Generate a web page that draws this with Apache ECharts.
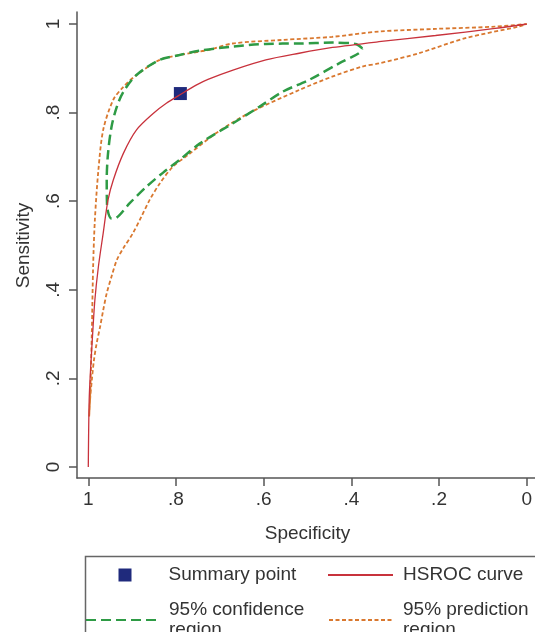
<!DOCTYPE html>
<html>
<head>
<meta charset="utf-8">
<script src="https://cdn.jsdelivr.net/npm/echarts@6/dist/echarts.min.js"></script>
<style>
html, body { margin: 0; padding: 0; background: #fff; }
#hsroc { width: 535px; height: 632px; }
</style>
</head>
<body>
<div id="hsroc"></div>
<script>
// values (specificity, sensitivity)
const summaryPoint = [0.79, 0.843];

const hsrocSpec = [1, 0.998, 0.9945, 0.99, 0.985, 0.977, 0.966, 0.955, 0.943, 0.92, 0.89, 0.852, 0.822, 0.788, 0.754, 0.727, 0.67, 0.595, 0.519, 0.443, 0.337, 0.208, 0.072, 0];
const hsrocSens = [0, 0.151, 0.226, 0.302, 0.377, 0.452, 0.528, 0.603, 0.648, 0.708, 0.761, 0.798, 0.821, 0.842, 0.862, 0.875, 0.896, 0.919, 0.934, 0.947, 0.96, 0.974, 0.99, 1];

const confSpec = [0.375, 0.39, 0.443, 0.519, 0.595, 0.67, 0.746, 0.792, 0.837, 0.89, 0.92, 0.935, 0.947, 0.955, 0.958, 0.957, 0.947, 0.935, 0.905, 0.867, 0.83, 0.792, 0.746, 0.67, 0.61, 0.557, 0.496, 0.428, 0.383, 0.375];
const confSens = [0.945, 0.955, 0.958, 0.956, 0.955, 0.949, 0.94, 0.93, 0.919, 0.885, 0.847, 0.813, 0.768, 0.708, 0.648, 0.588, 0.561, 0.563, 0.596, 0.633, 0.664, 0.693, 0.73, 0.776, 0.813, 0.847, 0.874, 0.911, 0.934, 0.945];

const predSpec = [0.998, 0.996, 0.992, 0.989, 0.985, 0.977, 0.966, 0.943, 0.92, 0.89, 0.837, 0.792, 0.728, 0.671, 0.558, 0.444, 0.337, 0.208, 0.072, 0, 0.019, 0.14, 0.246, 0.337, 0.375, 0.444, 0.519, 0.633, 0.708, 0.773, 0.807, 0.837, 0.86, 0.879, 0.898, 0.92, 0.935, 0.947, 0.958, 0.966, 0.973, 0.981, 0.987, 0.992, 0.996, 0.998];
const predSens = [0.114, 0.151, 0.302, 0.452, 0.558, 0.67, 0.761, 0.829, 0.858, 0.885, 0.919, 0.93, 0.941, 0.956, 0.964, 0.971, 0.983, 0.989, 0.994, 1, 0.994, 0.968, 0.934, 0.911, 0.904, 0.881, 0.851, 0.799, 0.754, 0.704, 0.678, 0.64, 0.603, 0.565, 0.528, 0.494, 0.467, 0.43, 0.392, 0.354, 0.317, 0.279, 0.242, 0.196, 0.151, 0.114];

const tickLabels = ['0', '.2', '.4', '.6', '.8', '1'];

const pairs = (xs, ys) => xs.map((x, i) => [x, ys[i]]);

const font = "'Liberation Sans', Arial, Helvetica, sans-serif";
const textColor = '#333';
const axisColor = '#555';

const chart = echarts.init(document.getElementById('hsroc'));

const tickFmt = (v) => tickLabels[Math.round(v * 5)];

const bareAxis = {
  type: 'value', min: 0, max: 1, gridIndex: 1,
  axisLine: { show: true, onZero: false, lineStyle: { color: axisColor, width: 1.5 } },
  axisTick: { show: false }, axisLabel: { show: false }, splitLine: { show: false }
};

const legendBase = {
  orient: 'vertical', padding: 0, selectedMode: false,
  itemStyle: { opacity: 0 },
  textStyle: { fontFamily: font, fontSize: 19, color: textColor, lineHeight: 21 }
};

chart.setOption({
  animation: false,
  backgroundColor: '#fff',
  grid: [
    { left: 88.3, right: 6.7, top: 24, bottom: 165 },
    { left: 77, right: 0, top: 12, bottom: 154 }
  ],
  xAxis: [
    {
      type: 'value', min: 0, max: 1, interval: 0.2, inverse: true, offset: 11,
      name: 'Specificity', nameLocation: 'middle', nameGap: 46,
      nameTextStyle: { fontFamily: font, fontSize: 19, color: textColor },
      axisLine: { show: false, onZero: false },
      axisTick: { show: true, length: 8, lineStyle: { color: axisColor, width: 1.5 } },
      axisLabel: { fontFamily: font, fontSize: 19, color: textColor, margin: 12, formatter: tickFmt },
      splitLine: { show: false }
    },
    Object.assign({ inverse: true }, bareAxis)
  ],
  yAxis: [
    {
      type: 'value', min: 0, max: 1, interval: 0.2, offset: 11.3,
      name: 'Sensitivity', nameLocation: 'middle', nameGap: 44,
      nameTextStyle: { fontFamily: font, fontSize: 19, color: textColor },
      axisLine: { show: false, onZero: false },
      axisTick: { show: true, length: 8, lineStyle: { color: axisColor, width: 1.5 } },
      axisLabel: { fontFamily: font, fontSize: 19, color: textColor, margin: 14, rotate: 90, formatter: tickFmt },
      splitLine: { show: false }
    },
    bareAxis
  ],
  legend: [
    Object.assign({}, legendBase, {
      data: [{ name: 'Summary point', icon: 'rect' }], left: 118.5, top: 564.5,
      itemWidth: 13, itemHeight: 13, itemStyle: { opacity: 1 },
      textStyle: Object.assign({}, legendBase.textStyle, { padding: [0, 0, 0, 32] })
    }),
    Object.assign({}, legendBase, {
      data: ['HSROC curve'], left: 327, top: 564.5, itemWidth: 65, itemHeight: 14,
      textStyle: Object.assign({}, legendBase.textStyle, { padding: [0, 0, 0, 5] })
    }),
    Object.assign({}, legendBase, {
      data: ['95% confidence\nregion'], left: 85, top: 600, itemWidth: 73, itemHeight: 14,
      textStyle: Object.assign({}, legendBase.textStyle, { lineHeight: 20, padding: [0, 0, 0, 5] })
    }),
    Object.assign({}, legendBase, {
      data: ['95% prediction\nregion'], left: 328, top: 600, itemWidth: 63, itemHeight: 14,
      textStyle: Object.assign({}, legendBase.textStyle, { lineHeight: 20, padding: [0, 0, 0, 6] })
    })
  ],
  graphic: [{
    type: 'rect', left: 83, top: 554, silent: true,
    shape: { width: 470, height: 100 },
    style: { fill: 'none', stroke: '#666', lineWidth: 1.5 }
  }],
  series: [
    {
      name: '95% prediction\nregion', type: 'line', data: pairs(predSpec, predSens),
      symbol: 'none', smooth: 0.3,
      lineStyle: { color: '#d9782f', width: 1.8, type: [4, 2.5] },
      itemStyle: { color: '#d9782f' }
    },
    {
      name: '95% confidence\nregion', type: 'line', data: pairs(confSpec, confSens),
      symbol: 'none', smooth: 0.3,
      lineStyle: { color: '#2e9b45', width: 2.5, type: [10, 5] },
      itemStyle: { color: '#2e9b45' }
    },
    {
      name: 'HSROC curve', type: 'line', data: pairs(hsrocSpec, hsrocSens),
      symbol: 'none', smooth: 0.3,
      lineStyle: { color: '#c8323c', width: 1.3 },
      itemStyle: { color: '#c8323c' }
    },
    {
      name: 'Summary point', type: 'scatter', data: [summaryPoint],
      symbol: 'rect', symbolSize: 13,
      itemStyle: { color: '#1f2a7c', opacity: 1 }
    }
  ]
});
</script>
</body>
</html>
